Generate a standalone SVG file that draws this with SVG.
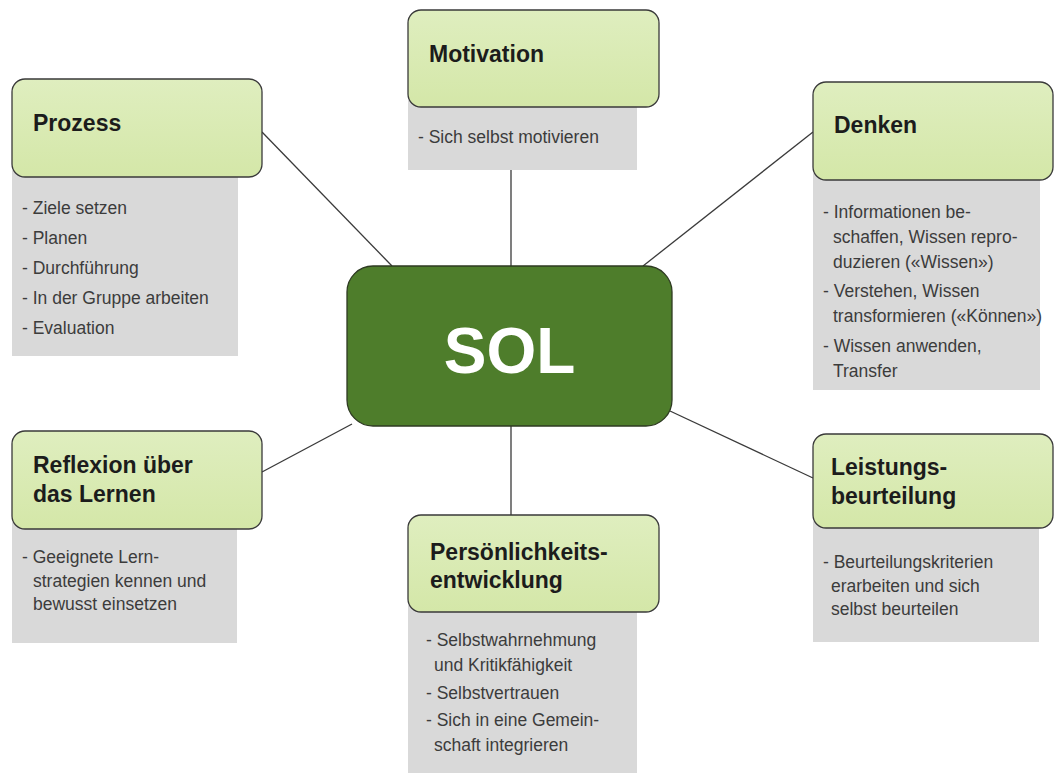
<svg xmlns="http://www.w3.org/2000/svg" width="1055" height="778" viewBox="0 0 1055 778">
<defs>
<linearGradient id="lg" x1="0" y1="0" x2="0" y2="1">
<stop offset="0" stop-color="#dfeebf"/>
<stop offset="1" stop-color="#d4e7a8"/>
</linearGradient>
<style>
.panel{fill:#d9d9d9}
.box{fill:url(#lg);stroke:#3a3a3a;stroke-width:1.3}
.title{font-family:"Liberation Sans",Arial,sans-serif;font-weight:bold;font-size:23px;fill:#1c1c1c}
.body{font-family:"Liberation Sans",Arial,sans-serif;font-size:17.5px;fill:#3c3c3c}
.conn{stroke:#3a3a3a;stroke-width:1.3;fill:none}
</style>
</defs>
<rect width="1055" height="778" fill="#ffffff"/>
<g id="connectors">
<line class="conn" x1="262" y1="132" x2="392" y2="266"/>
<line class="conn" x1="511" y1="170" x2="511" y2="266"/>
<line class="conn" x1="813" y1="132" x2="643" y2="266"/>
<line class="conn" x1="262" y1="472" x2="352" y2="424"/>
<line class="conn" x1="511" y1="426" x2="511" y2="515"/>
<line class="conn" x1="670" y1="411" x2="813" y2="478"/>
</g>
<g id="sol">
<rect x="347" y="266" width="325" height="160" rx="26" fill="#4e7d2b" stroke="#2e3a22" stroke-width="1.3"/>
<text x="509.5" y="373" text-anchor="middle" font-family="Liberation Sans,Arial,sans-serif" font-weight="bold" font-size="64" fill="#ffffff">SOL</text>
</g>
<g id="motivation">
<rect class="panel" x="408" y="100" width="229" height="70"/>
<rect class="box" x="408" y="10" width="251" height="97" rx="13"/>
<text class="title" x="429" y="62">Motivation</text>
<text class="body" x="418" y="143">- Sich selbst motivieren</text>
</g>
<g id="prozess">
<rect class="panel" x="12" y="170" width="226" height="186"/>
<rect class="box" x="12" y="79" width="250" height="98" rx="13"/>
<text class="title" x="33" y="131">Prozess</text>
<text class="body" x="22" y="214">- Ziele setzen</text>
<text class="body" x="22" y="244">- Planen</text>
<text class="body" x="22" y="274">- Durchführung</text>
<text class="body" x="22" y="304">- In der Gruppe arbeiten</text>
<text class="body" x="22" y="334">- Evaluation</text>
</g>
<g id="denken">
<rect class="panel" x="813" y="173" width="227" height="217"/>
<rect class="box" x="813" y="82" width="240" height="98" rx="13"/>
<text class="title" x="834" y="133">Denken</text>
<text class="body" x="823" y="218">- Informationen be-</text>
<text class="body" x="833" y="243">schaffen, Wissen repro-</text>
<text class="body" x="833" y="268">duzieren («Wissen»)</text>
<text class="body" x="823" y="297">- Verstehen, Wissen</text>
<text class="body" x="833" y="322">transformieren («Können»)</text>
<text class="body" x="823" y="352">- Wissen anwenden,</text>
<text class="body" x="833" y="377">Transfer</text>
</g>
<g id="reflexion">
<rect class="panel" x="12" y="522" width="225" height="121"/>
<rect class="box" x="12" y="431" width="250" height="98" rx="13"/>
<text class="title" x="33" y="473">Reflexion über</text>
<text class="title" x="33" y="502">das Lernen</text>
<text class="body" x="22" y="563">- Geeignete Lern-</text>
<text class="body" x="33" y="587">strategien kennen und</text>
<text class="body" x="33" y="610">bewusst einsetzen</text>
</g>
<g id="persoenlichkeit">
<rect class="panel" x="408" y="605" width="229" height="168"/>
<rect class="box" x="408" y="515" width="251" height="97" rx="13"/>
<text class="title" x="430" y="560">Persönlichkeits-</text>
<text class="title" x="430" y="588">entwicklung</text>
<text class="body" x="426" y="646">- Selbstwahrnehmung</text>
<text class="body" x="434" y="671">und Kritikfähigkeit</text>
<text class="body" x="426" y="699">- Selbstvertrauen</text>
<text class="body" x="426" y="726">- Sich in eine Gemein-</text>
<text class="body" x="434" y="751">schaft integrieren</text>
</g>
<g id="leistung">
<rect class="panel" x="813" y="521" width="226" height="121"/>
<rect class="box" x="813" y="434" width="240" height="94" rx="13"/>
<text class="title" x="831" y="475">Leistungs-</text>
<text class="title" x="831" y="504">beurteilung</text>
<text class="body" x="823" y="568">- Beurteilungskriterien</text>
<text class="body" x="831" y="592">erarbeiten und sich</text>
<text class="body" x="831" y="615">selbst beurteilen</text>
</g>
</svg>
